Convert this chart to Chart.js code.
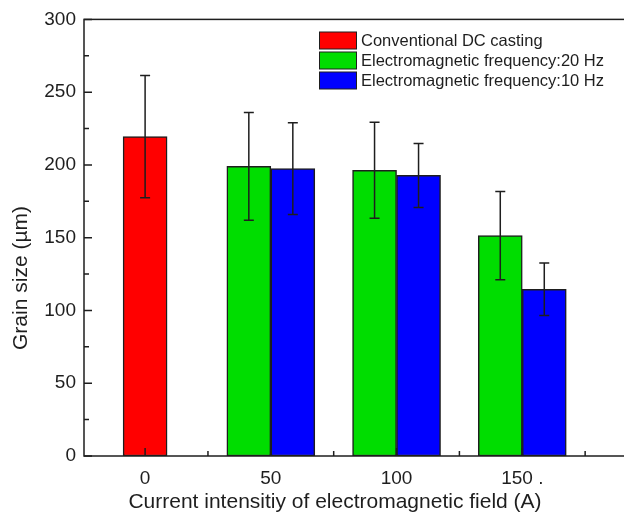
<!DOCTYPE html>
<html>
<head>
<meta charset="utf-8">
<script src="https://cdn.jsdelivr.net/npm/chart.js@4"></script>
<style>
    html, body { margin: 0; padding: 0; background: #fff; overflow: hidden; }
    #wrap { width: 660px; height: 514px; position: relative; }
</style>
</head>
<body>
<div id="wrap"><canvas id="grainChart"></canvas></div>
<script>
// 数据
const currents = [0, 50, 100, 150];
const xTickLabels = ['0', '50', '100', '150 .'];
const yTicks = [0, 50, 100, 150, 200, 250, 300];

const seriesNames = ['Conventional DC casting', 'Electromagnetic frequency:20 Hz', 'Electromagnetic frequency:10 Hz'];
const dcSize = [219.5, null, null, null];
const dcErr = [42, null, null, null];
const f20Size = [null, 199, 196.3, 151.4];
const f20Err = [null, 37, 33, 30.3];
const f10Size = [null, 197.5, 192.8, 114.6];
const f10Err = [null, 31.5, 22, 18];

const colors = ['#ff0000', '#00dd00', '#0000ff'];
const ink = '#1e1e1e';
const font = 'Liberation Sans, Arial, sans-serif';

function toPoints(values) {
    return currents.map((c, i) => ({ x: c, y: values[i] }));
}

const errors = [dcErr, f20Err, f10Err];

// 误差线、刻度、边框、标题、图例
const decorPlugin = {
    id: 'decor',
    afterDatasetsDraw(chart) {
        const ctx = chart.ctx;
        const ys = chart.scales.y;
        ctx.save();
        ctx.strokeStyle = ink;
        ctx.lineWidth = 1.5;
        chart.data.datasets.forEach((ds, di) => {
            const meta = chart.getDatasetMeta(di);
            meta.data.forEach((bar, i) => {
                const v = ds.data[i].y;
                const e = errors[di][i];
                if (v === null || e === null) return;
                const yt = ys.getPixelForValue(v + e);
                const yb = ys.getPixelForValue(v - e);
                ctx.beginPath();
                ctx.moveTo(bar.x, yt); ctx.lineTo(bar.x, yb);
                ctx.moveTo(bar.x - 5, yt); ctx.lineTo(bar.x + 5, yt);
                ctx.moveTo(bar.x - 5, yb); ctx.lineTo(bar.x + 5, yb);
                ctx.stroke();
            });
        });
        ctx.restore();
    },
    afterDraw(chart) {
        const ctx = chart.ctx;
        const area = chart.chartArea;
        const xs = chart.scales.x;
        const ys = chart.scales.y;
        ctx.save();
        ctx.strokeStyle = ink;
        ctx.lineWidth = 1.5;
        ctx.strokeRect(area.left, area.top, area.right - area.left, area.bottom - area.top);

        // 向内刻度
        ctx.beginPath();
        ys.ticks.forEach(t => {
            const y = ys.getPixelForValue(t.value);
            const len = t.value % 50 === 0 ? 8 : 5;
            ctx.moveTo(area.left, y); ctx.lineTo(area.left + len, y);
        });
        xs.ticks.forEach(t => {
            const x = xs.getPixelForValue(t.value);
            const len = t.value % 50 === 0 ? 8 : 5;
            ctx.moveTo(x, area.bottom); ctx.lineTo(x, area.bottom - len);
        });
        ctx.stroke();

        // 坐标轴标题
        ctx.fillStyle = ink;
        ctx.font = '21px ' + font;
        ctx.textAlign = 'center';
        ctx.textBaseline = 'middle';
        ctx.fillText('Current intensitiy of electromagnetic field (A)', 335, 502);
        ctx.save();
        ctx.translate(21, 278);
        ctx.rotate(-Math.PI / 2);
        ctx.fillText('Grain size (\u00b5m)', 0, 0);
        ctx.restore();

        // 图例
        ctx.font = '16.5px ' + font;
        ctx.textAlign = 'left';
        ctx.lineWidth = 1;
        seriesNames.forEach((name, i) => {
            const top = 32 + i * 20;
            ctx.fillStyle = colors[i];
            ctx.fillRect(319.5, top, 37, 17);
            ctx.strokeRect(319.5, top, 37, 17);
            ctx.fillStyle = ink;
            ctx.fillText(name, 361, top + 9);
        });
        ctx.restore();
    }
};

const datasets = [dcSize, f20Size, f10Size].map((vals, i) => ({
    label: seriesNames[i],
    data: toPoints(vals),
    backgroundColor: colors[i],
    borderColor: ink,
    borderWidth: 1.5,
    borderSkipped: false,
    barThickness: 44,
    skipNull: true
}));

new Chart(document.getElementById('grainChart'), {
    type: 'bar',
    data: { datasets: datasets },
    options: {
        responsive: true,
        maintainAspectRatio: false,
        animation: false,
        layout: { padding: { top: 19, right: 12, left: 0, bottom: 0 } },
        plugins: {
            legend: { display: false },
            tooltip: { enabled: false }
        },
        scales: {
            x: {
                type: 'linear',
                offset: false,
                min: -24.3,
                max: 200,
                grid: { display: false, drawTicks: false, offset: false },
                border: { display: false },
                afterFit: s => { s.height = 58; },
                ticks: {
                    stepSize: 25,
                    includeBounds: false,
                    autoSkip: false,
                    maxRotation: 0,
                    padding: 11,
                    color: ink,
                    font: { family: font, size: 19 },
                    callback: v => {
                        const i = currents.indexOf(v);
                        return i >= 0 ? xTickLabels[i] : '';
                    }
                }
            },
            y: {
                min: 0,
                max: 300,
                grid: { display: false, drawTicks: false },
                border: { display: false },
                afterFit: s => { s.width = 84; },
                ticks: {
                    stepSize: 25,
                    padding: 8,
                    color: ink,
                    font: { family: font, size: 19 },
                    callback: v => yTicks.includes(v) ? String(v) : ''
                }
            }
        }
    },
    plugins: [decorPlugin]
});
</script>
</body>
</html>
